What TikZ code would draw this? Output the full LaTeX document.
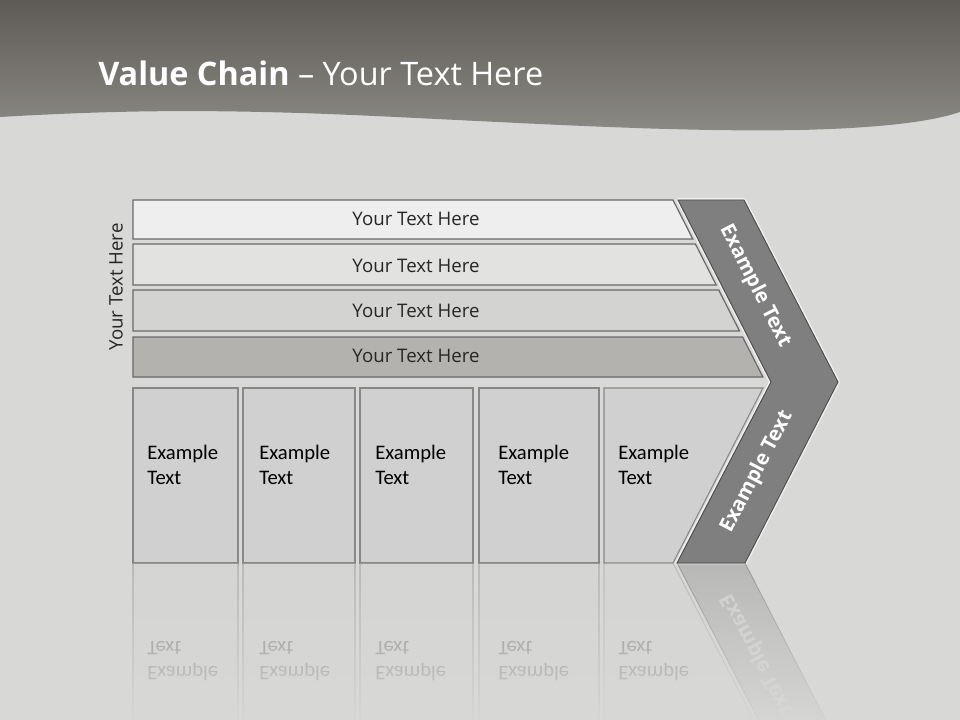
\documentclass[tikz,border=0pt]{standalone}
\usepackage{fontspec}
\setmainfont{Open Sans}
\newfontfamily\boxfont{Carlito}
\usetikzlibrary{fadings}
\definecolor{bg}{RGB}{216,216,214}
\definecolor{hdtop}{RGB}{94,91,86}
\definecolor{hdbot}{RGB}{140,138,133}
\definecolor{barA}{RGB}{239,238,239}
\definecolor{barB}{RGB}{226,226,225}
\definecolor{barC}{RGB}{211,211,210}
\definecolor{barD}{RGB}{180,178,174}
\definecolor{boxfill}{RGB}{208,208,208}
\definecolor{boxedge}{RGB}{135,135,135}
\definecolor{chev}{RGB}{127,127,127}
\definecolor{edge}{RGB}{105,105,105}
\tikzfading[name=fadeup, top color=transparent!100, bottom color=transparent!0]
\tikzset{
  barshape/.style={draw=edge, line width=0.9pt},
  boxshape/.style={draw=boxedge, fill=boxfill, line width=0.8pt},
  chevshape/.style={draw=black!70, fill=chev, line width=0.7pt},
  bartext/.style={font=\fontsize{14}{17}\selectfont, text=black!85, inner sep=0pt},
  boxtext/.style={font=\boxfont\fontsize{15.5}{18.75}\selectfont, text=black, align=left, anchor=west, inner sep=0pt},
  chevtext/.style={font=\fontsize{15.2}{18}\selectfont\bfseries, text=white, inner sep=0pt},
  titletext/.style={font=\fontsize{24.3}{29}\selectfont, text=white, anchor=west, inner sep=0pt}
}
% boxes row, with a name prefix
\newcommand\boxrow[1]{%
  \path[boxshape] (133,388) rectangle (238,563);
  \path[boxshape] (243,388) rectangle (355,563);
  \path[boxshape] (360,388) rectangle (473,563);
  \path[boxshape] (479,388) rectangle (599,563);
  \path[boxshape] (604,388) -- (763,388) -- (673,563) -- (604,563) -- cycle;
  \node[boxtext] (#1b1) at (147,465) {Example\\Text};
  \node[boxtext] (#1b2) at (259,465) {Example\\Text};
  \node[boxtext] (#1b3) at (375,465) {Example\\Text};
  \node[boxtext] (#1b4) at (498,465) {Example\\Text};
  \node[boxtext] (#1b5) at (618,465) {Example\\Text};
}
\begin{document}
\begin{tikzpicture}[x=0.75pt,y=-0.75pt]
\useasboundingbox (0,0) rectangle (960,720);
% background
\fill[bg] (0,0) rectangle (960,720);
% header
\shade[top color=hdtop, bottom color=hdbot]
  (0,0) -- (960,0) -- (960,112)
  .. controls (930,122) and (880,128) .. (800,130)
  .. controls (650,133) and (450,118) .. (300,113)
  .. controls (200,110) and (120,110) .. (0,117) -- cycle;
\node[titletext] (title) at (98,73) {\textbf{Value Chain} – Your Text Here};
% vertical label
\node[bartext, rotate=90] (side) at (116,287) {Your Text Here};
% bars
\path[barshape, fill=barA] (133,200) -- (673,200) -- (692.8,239) -- (133,239) -- cycle;
\path[barshape, fill=barB] (133,244) -- (695.4,244) -- (716.2,285) -- (133,285) -- cycle;
\path[barshape, fill=barC] (133,290) -- (718.7,290) -- (739.5,331) -- (133,331) -- cycle;
\path[barshape, fill=barD] (133,337) -- (742.6,337) -- (762.9,377) -- (133,377) -- cycle;
\node[bartext] (t1) at (416,219) {Your Text Here};
\node[bartext] (t2) at (416,266) {Your Text Here};
\node[bartext] (t3) at (416,311) {Your Text Here};
\node[bartext] (t4) at (416,356) {Your Text Here};
% chevron
\draw[white, opacity=0.6, line width=3pt, line join=round]
  (678,200) -- (744,200) -- (838,382) -- (745,563) -- (677,563) -- (771,382) -- cycle;
\path[chevshape] (678,200) -- (744,200) -- (838,382) -- (745,563) -- (677,563) -- (771,382) -- cycle;
\node[chevtext, rotate=-62.9] (c1) at (755,286) {Example Text};
\node[chevtext, rotate=62.6] (c2) at (757,472) {Example Text};
% boxes
\boxrow{}
% reflection
\begin{scope}
  \clip (0,563) rectangle (960,720);
  \begin{scope}[shift={(0,1126)}, yscale=-1, transform shape, opacity=0.35]
    \boxrow{r}
    \path[chevshape] (771,382) -- (838,382) -- (745,563) -- (677,563) -- cycle;
    \node[chevtext, rotate=62.6] (rc2) at (757,472) {Example Text};
  \end{scope}
  \fill[bg, path fading=fadeup] (120,563) rectangle (870,735);
\end{scope}
\end{tikzpicture}
\end{document}
